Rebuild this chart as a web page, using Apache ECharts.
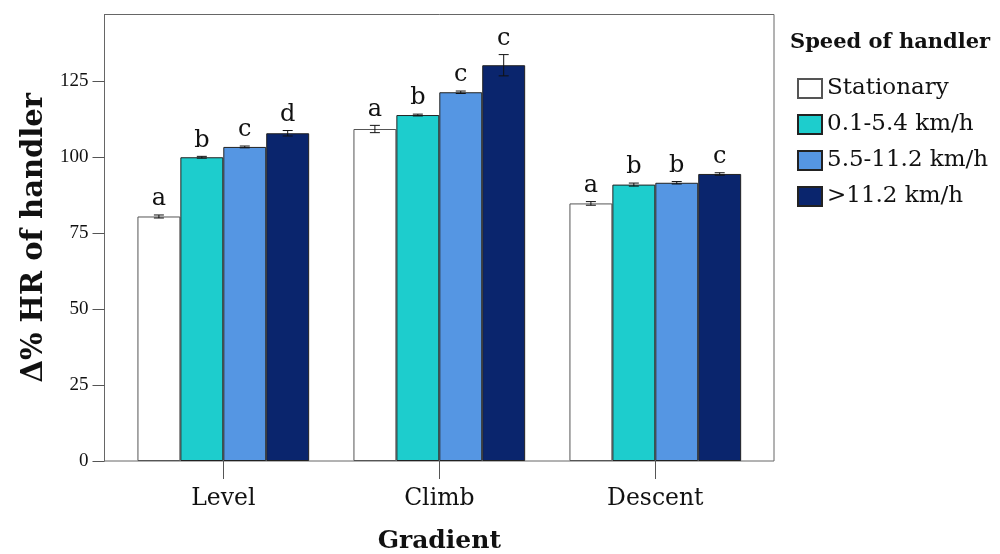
<!DOCTYPE html>
<html>
<head>
<meta charset="utf-8">
<title>Δ% HR of handler by gradient and speed</title>
<script src="https://cdn.jsdelivr.net/npm/echarts@6/dist/echarts.min.js"></script>
<style>
  html, body { margin: 0; padding: 0; background: #fff; }
  #chart { width: 1000px; height: 554px; }
</style>
</head>
<body>
<div id="chart"></div>
<script>
// Gradient categories and handler speed groups
const categories = ['Level', 'Climb', 'Descent'];
const speedNames = ['Stationary', '0.1-5.4 km/h', '5.5-11.2 km/h', '>11.2 km/h'];

// Mean Δ% HR per gradient for each speed group
const stationary = [80.5, 109.3, 84.8];
const slow = [100.0, 113.9, 91.0];
const medium = [103.4, 121.4, 91.6];
const fast = [107.9, 130.3, 94.5];

// Error bar half-widths
const stationaryErr = [0.5, 1.2, 0.6];
const slowErr = [0.3, 0.3, 0.5];
const mediumErr = [0.3, 0.4, 0.4];
const fastErr = [0.9, 3.5, 0.4];

// Significance letters above each bar
const stationaryLetters = ['a', 'a', 'a'];
const slowLetters = ['b', 'b', 'b'];
const mediumLetters = ['c', 'c', 'b'];
const fastLetters = ['d', 'c', 'c'];

// Y axis tick values
const yTicks = [0, 25, 50, 75, 100, 125];
const yMax = 147;

const colors = ['#ffffff', '#1dcdcd', '#5596e3', '#0a256d'];
const seriesValues = [stationary, slow, medium, fast];
const seriesErrs = [stationaryErr, slowErr, mediumErr, fastErr];
const seriesLetters = [stationaryLetters, slowLetters, mediumLetters, fastLetters];

const SERIF = '"DejaVu Serif", "Liberation Serif", serif';
const NUM = '"Liberation Serif", "DejaVu Serif", serif';
const CAT_GAP = 0.205;

// One record per bar: [category index, mean, speed index, error]
const annotData = [];
seriesValues.forEach((vals, s) => {
  vals.forEach((v, c) => {
    annotData.push([c, v, s, seriesErrs[s][c]]);
  });
});
const annotLetters = [];
seriesLetters.forEach((ls) => ls.forEach((l) => annotLetters.push(l)));

const chart = echarts.init(document.getElementById('chart'), null, { renderer: 'canvas' });

const barSeries = seriesValues.map((vals, s) => ({
  name: speedNames[s],
  type: 'bar',
  xAxisIndex: 1,
  yAxisIndex: 1,
  data: vals,
  barGap: '0%',
  barCategoryGap: (CAT_GAP * 100) + '%',
  itemStyle: {
    color: colors[s],
    borderColor: s === 0 ? '#555' : '#222',
    borderWidth: 1
  },
  emphasis: { disabled: true },
  silent: true,
  z: 2
}));

// Error bars with caps and the significance letter above each bar
const annotSeries = {
  type: 'custom',
  xAxisIndex: 1,
  yAxisIndex: 1,
  data: annotData,
  silent: true,
  z: 5,
  renderItem: function (params, api) {
    const c = api.value(0);
    const v = api.value(1);
    const s = api.value(2);
    const e = api.value(3);
    const letter = annotLetters[params.dataIndex];
    const band = api.size([1, 0])[0];
    const barW = band * (1 - CAT_GAP) / 4;
    const center = api.coord([c, v]);
    const x = center[0] - 2 * barW + (s + 0.5) * barW;
    const top = api.coord([c, v + e])[1];
    const bot = api.coord([c, v - e])[1];
    const cap = 5;
    const line = { stroke: '#111', lineWidth: 1 };
    return {
      type: 'group',
      children: [
        { type: 'line', shape: { x1: x, y1: top, x2: x, y2: bot }, style: line },
        { type: 'line', shape: { x1: x - cap, y1: top, x2: x + cap, y2: top }, style: line },
        { type: 'line', shape: { x1: x - cap, y1: bot, x2: x + cap, y2: bot }, style: line },
        {
          type: 'text',
          style: {
            text: letter,
            x: x,
            y: top - 4,
            align: 'center',
            verticalAlign: 'bottom',
            font: '24px ' + SERIF,
            fill: '#111'
          }
        }
      ]
    };
  }
};

const option = {
  backgroundColor: '#fff',
  animation: false,
  title: {
    text: 'Speed of handler',
    left: 785,
    top: 27,
    textStyle: { fontFamily: SERIF, fontSize: 21, fontWeight: 'bold', color: '#111' }
  },
  legend: {
    orient: 'vertical',
    left: 797,
    top: 77,
    padding: 0,
    itemWidth: 24,
    itemHeight: 19,
    itemGap: 13,
    icon: 'rect',
    selectedMode: false,
    data: speedNames,
    textStyle: { fontFamily: SERIF, fontSize: 23, color: '#111' }
  },
  grid: [
    {
      // outer frame and y axis
      left: 104.5, right: 226, top: 14.5, bottom: 93,
      outerBoundsMode: 'none',
      show: true, borderColor: '#666', borderWidth: 1, backgroundColor: 'transparent'
    },
    {
      // bar area, inset from the frame on both sides
      left: 115.3, right: 236.7, top: 14.5, bottom: 93,
      outerBoundsMode: 'none'
    }
  ],
  xAxis: [
    { gridIndex: 0, type: 'value', min: 0, max: 1, show: false },
    {
      gridIndex: 1,
      type: 'category',
      data: categories,
      axisLine: { show: false },
      axisTick: { show: true, alignWithLabel: true, length: 18, lineStyle: { color: '#555', width: 1 } },
      axisLabel: { margin: 26, fontFamily: SERIF, fontSize: 23.5, color: '#111' },
      name: 'Gradient',
      nameLocation: 'middle',
      nameGap: 68,
      nameTextStyle: { fontFamily: SERIF, fontSize: 25, fontWeight: 'bold', color: '#111' }
    }
  ],
  yAxis: [
    {
      gridIndex: 0,
      type: 'value',
      min: 0,
      max: yMax,
      interval: 25,
      splitLine: { show: false },
      axisLine: { show: true, lineStyle: { color: '#666', width: 1 } },
      axisTick: { show: true, length: 12, customValues: yTicks, lineStyle: { color: '#555', width: 1 } },
      axisLabel: { customValues: yTicks, margin: 16, fontFamily: NUM, fontSize: 19, color: '#111' },
      name: 'Δ% HR of handler',
      nameLocation: 'middle',
      nameGap: 53,
      nameRotate: 90,
      nameTextStyle: { fontFamily: SERIF, fontSize: 29, fontWeight: 'bold', color: '#111' }
    },
    { gridIndex: 1, type: 'value', min: 0, max: yMax, show: false }
  ],
  series: barSeries.concat([annotSeries])
};

chart.setOption(option);
</script>
</body>
</html>
